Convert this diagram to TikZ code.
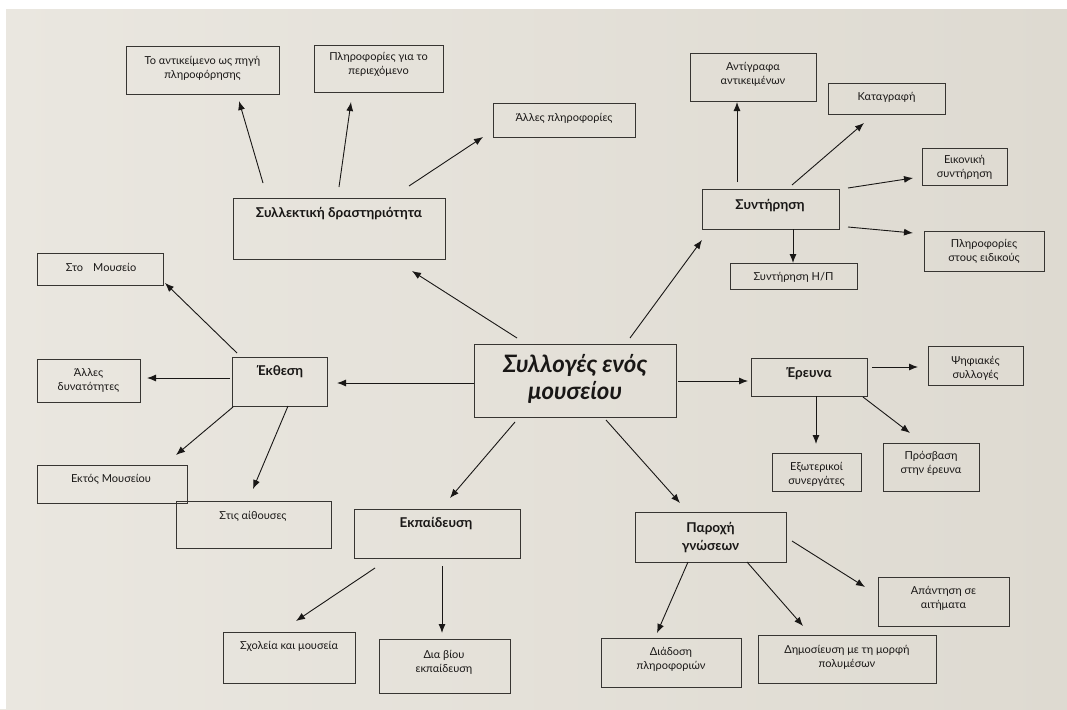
\documentclass[tikz,border=0pt]{standalone}
\usepackage{fontspec}
\setmainfont{Lato}
\usetikzlibrary{calc,arrows.meta}
\definecolor{paperL}{RGB}{234,231,224}
\definecolor{paperR}{RGB}{222,218,209}
\definecolor{ink}{RGB}{25,23,22}
\definecolor{boxc}{RGB}{55,53,50}
\newcommand\bx[5]{\node[box, minimum width={#4pt-#2pt}, minimum height={#5pt-#3pt}] (#1) at ({(#2+#4)/2},{(#3+#5)/2}) {};}
\newcommand\arw[6]{\draw[arr] ($(#1.north west)+(#2,#3)$) -- ($(#4.north west)+(#5,#6)$);}
\begin{document}
\begin{tikzpicture}[x=1pt,y=-1pt,
  box/.style={draw=boxc, line width=0.85pt, inner sep=0pt, outer sep=0pt},
  txt/.style={align=center, text=ink, font=\fontsize{11}{14}\selectfont, inner sep=0pt},
  hd/.style={align=center, text=ink, font=\fontsize{13.5}{18}\selectfont\bfseries, inner sep=0pt},
  arr/.style={draw=ink, line width=0.9pt, -{Latex[length=9pt,width=7pt]}}]
\useasboundingbox (0,0) rectangle (1067,709);
\shade[left color=paperL, right color=paperR] (0,0) rectangle (1067,709);
\fill[white] (0,0) rectangle (1067,9);
\fill[white] (0,0) rectangle (6,709);

% boxes
\bx{obj}{126}{46}{279}{94}
\bx{info}{314}{45}{443}{92}
\bx{other}{493}{103}{635}{137}
\bx{coll}{233}{198}{445}{259}
\bx{mus}{37}{253}{163}{285}
\bx{copies}{690}{53}{816}{101}
\bx{record}{828}{83}{945}{114}
\bx{virt}{922}{148}{1007}{185}
\bx{cons}{702}{189}{839}{229}
\bx{spec}{924}{231}{1044}{271}
\bx{consep}{730}{263}{857}{289}
\bx{main}{474}{344}{676}{417}
\bx{expo}{232}{357}{327}{406}
\bx{poss}{37}{359}{140}{402}
\bx{out}{37}{465}{187}{503}
\bx{halls}{176}{501}{331}{548}
\bx{edu}{354}{509}{520}{558}
\bx{schools}{223}{632}{355}{683}
\bx{life}{379}{639}{510}{693}
\bx{res}{751}{358}{867}{396}
\bx{dig}{928}{346}{1023}{385}
\bx{ext}{772}{453}{861}{491}
\bx{acc}{883}{443}{979}{491}
\bx{know}{635}{512}{786}{562}
\bx{ans}{878}{577}{1009}{626}
\bx{diss}{601}{638}{741}{687}
\bx{pub}{758}{635}{936}{683}

% texts
\node[txt] (obj-t) at (202.5,68) {Το αντικείμενο ως πηγή\\πληροφόρησης};
\node[txt] (info-t) at (378.5,64) {Πληροφορίες για το\\περιεχόμενο};
\node[txt] (other-t) at (564,118) {Άλλες πληροφορίες};
\node[hd] (coll-t) at (339,214) {Συλλεκτική δραστηριότητα};
\node[txt] (mus-t) at (101,267) {Στο\hspace{10pt}Μουσείο};
\node[txt] (copies-t) at (753,74) {Αντίγραφα\\αντικειμένων};
\node[txt] (record-t) at (886.5,97) {Καταγραφή};
\node[txt] (virt-t) at (964.5,167) {Εικονική\\συντήρηση};
\node[hd] (cons-t) at (770,206) {Συντήρηση};
\node[txt] (spec-t) at (984,251) {Πληροφορίες\\στους ειδικούς};
\node[txt] (consep-t) at (793.5,277) {Συντήρηση Η/Π};
\node[align=center, text=ink, inner sep=0pt, font=\fontsize{24}{27}\selectfont\bfseries\itshape] (main-t) at (575,379) {Συλλογές ενός\\μουσείου};
\node[hd] (expo-t) at (280,372) {Έκθεση};
\node[txt] (poss-t) at (88.5,380) {Άλλες\\δυνατότητες};
\node[txt] (out-t) at (111,479) {Εκτός Μουσείου};
\node[txt] (halls-t) at (253,516) {Στις αίθουσες};
\node[hd] (edu-t) at (436,524) {Εκπαίδευση};
\node[txt] (schools-t) at (289,646) {Σχολεία και μουσεία};
\node[txt] (life-t) at (444,662) {Δια βίου\\εκπαίδευση};
\node[hd] (res-t) at (809,374) {Έρευνα};
\node[txt] (dig-t) at (975.5,368) {Ψηφιακές\\συλλογές};
\node[txt] (ext-t) at (816.5,474) {Εξωτερικοί\\συνεργάτες};
\node[txt] (acc-t) at (931,463) {Πρόσβαση\\στην έρευνα};
\node[hd] (know-t) at (710.5,538) {Παροχή\\γνώσεων};
\node[txt] (ans-t) at (943.5,598) {Απάντηση σε\\αιτήματα};
\node[txt] (diss-t) at (671,659) {Διάδοση\\πληροφοριών};
\node[txt] (pub-t) at (847,657) {Δημοσίευση με τη μορφή\\πολυμέσων};

% arrows
\arw{coll}{30}{-15}{obj}{113}{55}
\arw{coll}{106}{-11}{info}{37}{57}
\arw{coll}{176}{-12}{other}{-10}{34}
\arw{main}{43}{-6}{coll}{179}{73}
\arw{main}{156}{-6}{cons}{0}{51}
\arw{cons}{35}{-7}{copies}{47}{49}
\arw{cons}{90}{-4}{record}{36}{40}
\arw{cons}{146}{-1}{virt}{-9}{30}
\arw{cons}{146}{38}{spec}{-11}{2}
\arw{cons}{91}{40}{consep}{63}{0}
\arw{main}{0}{39}{expo}{105}{26}
\arw{expo}{5}{-4}{mus}{128}{30}
\arw{expo}{-2}{21}{poss}{110}{19}
\arw{expo}{1}{50}{out}{139}{-10}
\arw{expo}{56}{49}{halls}{77}{-12}
\arw{main}{41}{78}{edu}{96}{-11}
\arw{edu}{21}{59}{schools}{73}{-11}
\arw{edu}{88}{57}{life}{63}{-6}
\arw{main}{204}{37}{res}{-3}{23}
\arw{res}{121}{9}{dig}{-10}{21}
\arw{res}{65}{38}{ext}{44}{-9}
\arw{res}{112}{39}{acc}{27}{-10}
\arw{main}{132}{76}{know}{45}{-9}
\arw{know}{157}{29}{ans}{-13}{10}
\arw{know}{53}{50}{diss}{56}{-5}
\arw{know}{112}{50}{pub}{45}{-9}
\end{tikzpicture}
\end{document}
